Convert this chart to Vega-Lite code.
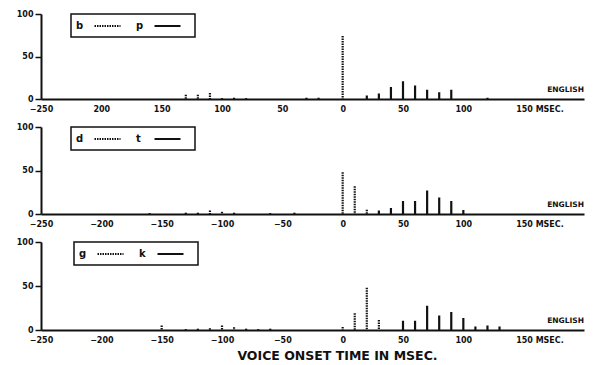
{
  "$schema": "https://vega.github.io/schema/vega-lite/v6.json",
  "background": "white",
  "padding": {"left": 16, "top": 10, "right": 5, "bottom": 4},
  "bounds": "flush",
  "spacing": 28,
  "config": {
    "view": {"stroke": null},
    "font": "DejaVu Sans",
    "axis": {
      "grid": false,
      "domainColor": "#111",
      "domainWidth": 2,
      "tickColor": "#111",
      "tickWidth": 1.5,
      "labelColor": "#111",
      "labelFont": "DejaVu Sans",
      "labelFontSize": 8,
      "labelFontWeight": "bold",
      "title": null
    },
    "legend": {
      "strokeWidth": 1.5
    }
  },
  "datasets": {
    "bp": [
      {"c": "b", "vot": -130, "pct": 5},
      {"c": "b", "vot": -120, "pct": 5},
      {"c": "b", "vot": -110, "pct": 7},
      {"c": "b", "vot": -100, "pct": 1},
      {"c": "b", "vot": -90, "pct": 1.5},
      {"c": "b", "vot": -80, "pct": 1},
      {"c": "b", "vot": -30, "pct": 1.5},
      {"c": "b", "vot": -20, "pct": 1.5},
      {"c": "b", "vot": 0, "pct": 74},
      {"c": "p", "vot": 20, "pct": 4},
      {"c": "p", "vot": 30, "pct": 6.5},
      {"c": "p", "vot": 40, "pct": 14},
      {"c": "p", "vot": 50, "pct": 21},
      {"c": "p", "vot": 60, "pct": 16},
      {"c": "p", "vot": 70, "pct": 11},
      {"c": "p", "vot": 80, "pct": 8},
      {"c": "p", "vot": 90, "pct": 11},
      {"c": "p", "vot": 120, "pct": 1.5}
    ],
    "dt": [
      {"c": "d", "vot": -160, "pct": 1},
      {"c": "d", "vot": -130, "pct": 1.5},
      {"c": "d", "vot": -120, "pct": 1.5},
      {"c": "d", "vot": -110, "pct": 4},
      {"c": "d", "vot": -100, "pct": 2.5},
      {"c": "d", "vot": -90, "pct": 1.5},
      {"c": "d", "vot": -60, "pct": 1},
      {"c": "d", "vot": -40, "pct": 1.5},
      {"c": "d", "vot": 0, "pct": 48},
      {"c": "d", "vot": 10, "pct": 32},
      {"c": "d", "vot": 20, "pct": 5},
      {"c": "t", "vot": 30, "pct": 4},
      {"c": "t", "vot": 40, "pct": 7},
      {"c": "t", "vot": 50, "pct": 15},
      {"c": "t", "vot": 60, "pct": 15},
      {"c": "t", "vot": 70, "pct": 27},
      {"c": "t", "vot": 80, "pct": 19},
      {"c": "t", "vot": 90, "pct": 15},
      {"c": "t", "vot": 100, "pct": 4.5}
    ],
    "gk": [
      {"c": "g", "vot": -150, "pct": 5},
      {"c": "g", "vot": -130, "pct": 1},
      {"c": "g", "vot": -120, "pct": 1.5},
      {"c": "g", "vot": -110, "pct": 2},
      {"c": "g", "vot": -100, "pct": 5},
      {"c": "g", "vot": -90, "pct": 3},
      {"c": "g", "vot": -80, "pct": 1.5},
      {"c": "g", "vot": -70, "pct": 1},
      {"c": "g", "vot": -60, "pct": 1.5},
      {"c": "g", "vot": 0, "pct": 3.5},
      {"c": "g", "vot": 10, "pct": 19},
      {"c": "g", "vot": 20, "pct": 48},
      {"c": "g", "vot": 30, "pct": 11.5},
      {"c": "k", "vot": 50, "pct": 10.5},
      {"c": "k", "vot": 60, "pct": 10.5},
      {"c": "k", "vot": 70, "pct": 27.5},
      {"c": "k", "vot": 80, "pct": 16.5},
      {"c": "k", "vot": 90, "pct": 20.5},
      {"c": "k", "vot": 100, "pct": 13.5},
      {"c": "k", "vot": 110, "pct": 4},
      {"c": "k", "vot": 120, "pct": 5},
      {"c": "k", "vot": 130, "pct": 4}
    ]
  },
  "resolve": {"scale": {"strokeDash": "independent"}, "legend": {"strokeDash": "independent"}},
  "vconcat": [
    {
      "width": 543,
      "height": 85,
      "data": {"name": "bp"},
      "layer": [
        {
          "mark": {"type": "rule", "strokeWidth": 2.2, "color": "#111"},
          "encoding": {
            "x": {"field": "vot", "type": "quantitative",
              "scale": {"domain": [-250, 200], "nice": false, "zero": false},
              "axis": {
                "values": [-250,-225,-200,-175,-150,-125,-100,-75,-50,-25,0,25,50,75,100,125,150,175,200],
                "labelExpr": "datum.value == -250 ? '−250' : (datum.value % 50 != 0 || datum.value == 200) ? '' : datum.value == 150 ? '150 MSEC.' : '' + abs(datum.value)",
                "tickSize": 4,
                "tickOpacity": {"condition": {"test": "datum.value % 50 == 0", "value": 0}, "value": 1},
                "labelPadding": 2,
                "labelOverlap": false,
                "labelFlush": false,
                "labelBound": false,
                "labelAlign": {"condition": {"test": "datum.value == 150", "value": "left"}, "value": "center"},
                "labelOffset": {"condition": {"test": "datum.value == 150", "value": -8}, "value": 0}
              }},
            "y": {"field": "pct", "type": "quantitative",
              "scale": {"domain": [0, 100], "nice": false},
              "axis": {"values": [0, 25, 50, 75, 100], "labelExpr": "datum.value % 50 == 0 ? datum.label : ''", "tickSize": 6, "labelPadding": 2}},
            "y2": {"datum": 0},
            "strokeDash": {"field": "c", "type": "nominal",
              "scale": {"domain": ["b", "p"], "range": [[1.5, 1], [1, 0]]},
              "legend": {"orient": "none", "legendX": 30, "legendY": 0, "direction": "horizontal",
                "title": "\u00a0", "titleOrient": "right", "titleFontSize": 6, "titlePadding": 5,
                "strokeColor": "#111", "fillColor": "white", "padding": 6,
                "symbolType": "M-2.6,0H2.6", "symbolSize": 100, "symbolStrokeWidth": 1.8, "symbolStrokeColor": "#111",
                "labelFontSize": 10, "labelFontWeight": "bold", "labelColor": "#111",
                "labelOffset": -37.5, "symbolOffset": 24.5, "columnPadding": 11}}
          }
        },
        {
          "data": {"values": [{}]},
          "mark": {"type": "text", "text": "ENGLISH", "align": "right", "baseline": "bottom", "fontSize": 7.5, "fontWeight": "bold", "color": "#111", "dy": -5},
          "encoding": {"x": {"datum": 200}, "y": {"datum": 0}}
        }
      ]
    },
    {
      "width": 543,
      "height": 87,
      "data": {"name": "dt"},
      "layer": [
        {
          "mark": {"type": "rule", "strokeWidth": 2.2, "color": "#111"},
          "encoding": {
            "x": {"field": "vot", "type": "quantitative",
              "scale": {"domain": [-250, 200], "nice": false, "zero": false},
              "axis": {
                "values": [-250,-225,-200,-175,-150,-125,-100,-75,-50,-25,0,25,50,75,100,125,150,175,200],
                "labelExpr": "(datum.value % 50 != 0 || datum.value == 200) ? '' : datum.value == 150 ? '150 MSEC.' : (datum.value < 0 ? '−' : '') + abs(datum.value)",
                "tickSize": 4,
                "tickOpacity": {"condition": {"test": "datum.value % 50 == 0", "value": 0}, "value": 1},
                "labelPadding": 2,
                "labelOverlap": false,
                "labelFlush": false,
                "labelBound": false,
                "labelAlign": {"condition": {"test": "datum.value == 150", "value": "left"}, "value": "center"},
                "labelOffset": {"condition": {"test": "datum.value == 150", "value": -8}, "value": 0}
              }},
            "y": {"field": "pct", "type": "quantitative",
              "scale": {"domain": [0, 100], "nice": false},
              "axis": {"values": [0, 25, 50, 75, 100], "labelExpr": "datum.value % 50 == 0 ? datum.label : ''", "tickSize": 6, "labelPadding": 2}},
            "y2": {"datum": 0},
            "strokeDash": {"field": "c", "type": "nominal",
              "scale": {"domain": ["d", "t"], "range": [[1.5, 1], [1, 0]]},
              "legend": {"orient": "none", "legendX": 30, "legendY": 0, "direction": "horizontal",
                "title": "\u00a0", "titleOrient": "right", "titleFontSize": 6, "titlePadding": 5,
                "strokeColor": "#111", "fillColor": "white", "padding": 6,
                "symbolType": "M-2.6,0H2.6", "symbolSize": 100, "symbolStrokeWidth": 1.8, "symbolStrokeColor": "#111",
                "labelFontSize": 10, "labelFontWeight": "bold", "labelColor": "#111",
                "labelOffset": -37.5, "symbolOffset": 24.5, "columnPadding": 11}}
          }
        },
        {
          "data": {"values": [{}]},
          "mark": {"type": "text", "text": "ENGLISH", "align": "right", "baseline": "bottom", "fontSize": 7.5, "fontWeight": "bold", "color": "#111", "dy": -5},
          "encoding": {"x": {"datum": 200}, "y": {"datum": 0}}
        }
      ]
    },
    {
      "width": 543,
      "height": 88,
      "data": {"name": "gk"},
      "layer": [
        {
          "mark": {"type": "rule", "strokeWidth": 2.2, "color": "#111"},
          "encoding": {
            "x": {"field": "vot", "type": "quantitative",
              "scale": {"domain": [-250, 200], "nice": false, "zero": false},
              "axis": {
                "values": [-250,-225,-200,-175,-150,-125,-100,-75,-50,-25,0,25,50,75,100,125,150,175,200],
                "labelExpr": "(datum.value % 50 != 0 || datum.value == 200) ? '' : datum.value == 150 ? '150 MSEC.' : (datum.value < 0 ? '−' : '') + abs(datum.value)",
                "tickSize": 4,
                "tickOpacity": {"condition": {"test": "datum.value % 50 == 0", "value": 0}, "value": 1},
                "labelPadding": 2,
                "labelOverlap": false,
                "labelFlush": false,
                "labelBound": false,
                "labelAlign": {"condition": {"test": "datum.value == 150", "value": "left"}, "value": "center"},
                "labelOffset": {"condition": {"test": "datum.value == 150", "value": -8}, "value": 0},
                "title": "VOICE ONSET TIME IN MSEC.",
                "titleFont": "DejaVu Sans",
                "titleFontSize": 12.5,
                "titleFontWeight": "bold",
                "titleColor": "#111",
                "titleX": 296,
                "titlePadding": 5
              }},
            "y": {"field": "pct", "type": "quantitative",
              "scale": {"domain": [0, 100], "nice": false},
              "axis": {"values": [0, 25, 50, 75, 100], "labelExpr": "datum.value % 50 == 0 ? datum.label : ''", "tickSize": 6, "labelPadding": 2}},
            "y2": {"datum": 0},
            "strokeDash": {"field": "c", "type": "nominal",
              "scale": {"domain": ["g", "k"], "range": [[1.5, 1], [1, 0]]},
              "legend": {"orient": "none", "legendX": 33, "legendY": 0, "direction": "horizontal",
                "title": "\u00a0", "titleOrient": "right", "titleFontSize": 6, "titlePadding": 5,
                "strokeColor": "#111", "fillColor": "white", "padding": 6,
                "symbolType": "M-2.6,0H2.6", "symbolSize": 100, "symbolStrokeWidth": 1.8, "symbolStrokeColor": "#111",
                "labelFontSize": 10, "labelFontWeight": "bold", "labelColor": "#111",
                "labelOffset": -37.5, "symbolOffset": 24.5, "columnPadding": 11}}
          }
        },
        {
          "data": {"values": [{}]},
          "mark": {"type": "text", "text": "ENGLISH", "align": "right", "baseline": "bottom", "fontSize": 7.5, "fontWeight": "bold", "color": "#111", "dy": -5},
          "encoding": {"x": {"datum": 200}, "y": {"datum": 0}}
        }
      ]
    }
  ]
}
